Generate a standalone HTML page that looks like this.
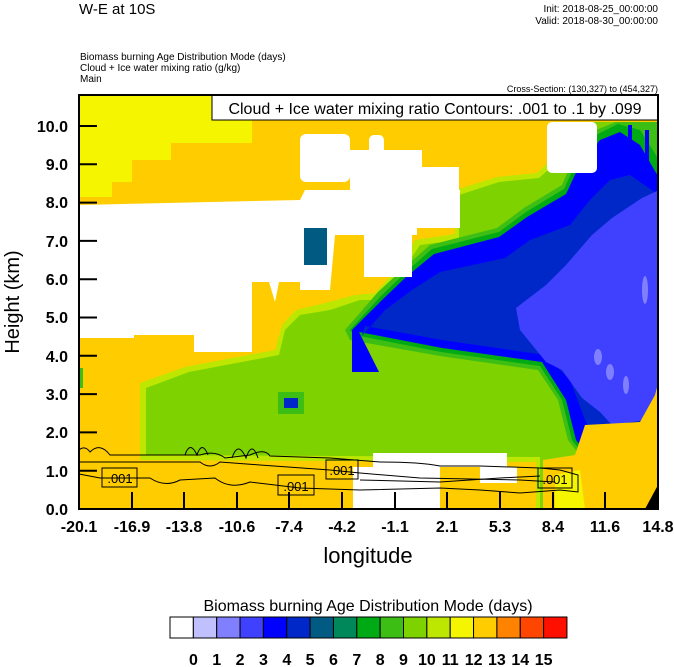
<!DOCTYPE html>
<html><head><meta charset="utf-8"><style>
body{margin:0;background:#fff;width:674px;height:667px;overflow:hidden}
svg{display:block;font-family:"Liberation Sans",sans-serif}
</style></head><body>
<svg width="674" height="667" viewBox="0 0 674 667" xmlns="http://www.w3.org/2000/svg">
<text x="79" y="14" font-size="15">W-E at 10S</text>
<text x="658" y="12" font-size="10" text-anchor="end">Init: 2018-08-25_00:00:00</text>
<text x="658" y="24" font-size="10" text-anchor="end">Valid: 2018-08-30_00:00:00</text>
<text x="80" y="60" font-size="10">Biomass burning Age Distribution Mode    (days)</text>
<text x="80" y="71" font-size="10">Cloud + Ice water mixing ratio    (g/kg)</text>
<text x="80" y="82" font-size="10">Main</text>
<text x="658" y="92" font-size="9" text-anchor="end">Cross-Section: (130,327) to (454,327)</text>
<defs><clipPath id="c"><rect x="79" y="95" width="579" height="414"/></clipPath></defs>
<g clip-path="url(#c)">
<rect x="79" y="95" width="579" height="414" fill="#FFCC00"/>
<polygon fill="#F5F500" points="79,95 252,95 252,143 171,143 171,160 132,160 132,182 112,182 112,197 79,197"/>
<polygon fill="#BDE600" points="140,460 140,383 185,367 275,350 282,325 296,310 325,303 355,295 375,293 396,270 415,240 455,234 455,190 497,177 537,173 558,153 572,125 588,122 659,122 659,509 536,509 536,462"/>
<polygon fill="#7DD200" points="146,455 146,388 189,372 279,355 285,330 300,315 330,310 360,300 380,300 400,275 420,245 459,240 459,195 499,182 539,178 562,158 575,130 590,122 659,122 659,509 540,509 540,457"/>
<polygon fill="#3CBE14" points="345,330 378,292 404,268 430,245 497,228 524,208 562,185 575,155 596,130 616,122 659,122 659,505 635,505 612,470 585,462 568,440 558,400 538,370 440,356 350,340"/>
<polygon fill="#00AA14" points="350,330 380,297 406,272 432,249 499,232 526,212 564,189 578,159 598,134 618,124 640,130 659,160 659,502 638,502 616,468 588,461 572,440 562,400 540,366 441,352 355,335"/>
<polygon fill="#0000FF" points="352,330 382,300 406,277 434,254 499,237 527,217 566,194 580,164 600,140 620,132 640,145 659,178 659,500 640,500 620,470 592,460 576,440 566,400 542,362 442,348 359,332 379,372 352,372"/>
<polygon fill="#0028C8" points="362,336 385,310 412,290 440,272 505,258 530,240 570,225 590,200 610,180 630,175 659,195 659,470 640,470 622,455 600,445 585,420 570,380 545,355 442,340 365,326"/>
<polygon fill="#4040FF" points="516,308 546,285 566,265 592,235 612,218 642,198 659,190 659,395 645,420 612,425 600,412 582,398 562,370 546,362 520,330"/>
<rect x="628" y="125" width="4" height="30" fill="#0000FF"/>
<rect x="645" y="130" width="4" height="40" fill="#0000FF"/>
<ellipse cx="645" cy="290" rx="3" ry="14" fill="#8080FF"/>
<ellipse cx="598" cy="357" rx="4" ry="8" fill="#8080FF"/>
<ellipse cx="610" cy="372" rx="4" ry="8" fill="#8080FF"/>
<ellipse cx="626" cy="385" rx="3" ry="9" fill="#8080FF"/>
<polygon fill="#FFCC00" points="543,460 575,455 585,425 640,422 655,395 659,380 659,509 543,509"/>
<polygon fill="#F5F500" points="555,475 580,470 585,509 555,509"/>
<rect x="278" y="392" width="26" height="22" fill="#3CBE14"/>
<rect x="284" y="398" width="14" height="10" fill="#0028C8"/>
<rect x="79" y="368" width="4" height="20" fill="#3CBE14"/>
<path fill="#fff" d="M79,205 L300,200 L305,190 L460,190 L460,228 L360,228 L360,235 L335,235 L330,290 L300,290 L300,282 L279,282 L275,302 L269,282 L252,282 L252,352 L194,352 L194,335 L134,335 L134,338 L79,338 Z"/>
<rect x="300" y="134" width="50" height="48" rx="6" fill="#fff"/>
<rect x="350" y="150" width="72" height="62" fill="#fff"/>
<rect x="369" y="135" width="15" height="20" rx="5" fill="#fff"/>
<rect x="422" y="167" width="37" height="45" fill="#fff"/>
<rect x="359" y="212" width="58" height="23" fill="#fff"/>
<rect x="364" y="235" width="48" height="42" fill="#fff"/>
<rect x="547" y="122" width="50" height="51" rx="5" fill="#fff"/>
<rect x="304" y="228" width="23" height="37" fill="#005A82"/>
<rect x="373" y="453" width="134" height="14" fill="#fff"/>
<rect x="353" y="467" width="87" height="42" fill="#fff"/>
<rect x="480" y="467" width="37" height="16" fill="#fff"/>
<polygon fill="#000" points="645,509 658,485 658,509"/>
<g fill="none" stroke="#000" stroke-width="1">
<path d="M79,450 Q85,445 90,452 Q100,442 110,455 L200,455 Q215,450 225,458 L250,455 Q265,448 270,456 L330,458 L380,462 Q420,462 440,466 L480,466 L540,468 L560,470 L578,475 L578,492 L560,490 L520,493 L480,490 L440,488 L360,490 L300,488 L250,482 Q230,490 215,478 L180,480 Q165,488 150,478 L100,478 L79,474"/>
<path d="M79,462 L200,462 Q210,470 220,462 L260,465 L330,470 L360,473 L420,478 L520,480 L555,482"/>
<path d="M360,480 L440,482 L500,478 L540,476"/>
<path d="M185,455 Q190,440 197,455 Q202,440 208,455 M232,458 Q238,440 246,458 Q252,440 258,458"/>
</g>
<g font-size="13" text-anchor="middle">
<rect x="102" y="468" width="35" height="19" fill="none" stroke="#000"/><text x="120" y="483">.001</text>
<rect x="278" y="475" width="36" height="20" fill="none" stroke="#000"/><text x="296" y="491">.001</text>
<rect x="326" y="460" width="32" height="19" fill="none" stroke="#000"/><text x="342" y="475">.001</text>
<rect x="538" y="468" width="34" height="20" fill="none" stroke="#000"/><text x="555" y="484">.001</text>
</g>
</g>
<rect x="212" y="95" width="446" height="25" fill="#fff" stroke="#000"/>
<text x="435" y="114" font-size="16" text-anchor="middle">Cloud + Ice water mixing ratio Contours: .001 to .1 by .099</text>
<rect x="79" y="95" width="579" height="414" fill="none" stroke="#000" stroke-width="2"/>
<g stroke="#000" stroke-width="2">
<line x1="79" y1="126" x2="97" y2="126"/><line x1="79" y1="164.3" x2="97" y2="164.3"/><line x1="79" y1="202.6" x2="97" y2="202.6"/><line x1="79" y1="240.9" x2="97" y2="240.9"/><line x1="79" y1="279.2" x2="97" y2="279.2"/><line x1="79" y1="317.5" x2="97" y2="317.5"/><line x1="79" y1="355.8" x2="97" y2="355.8"/><line x1="79" y1="394.1" x2="97" y2="394.1"/><line x1="79" y1="432.4" x2="97" y2="432.4"/><line x1="79" y1="470.7" x2="97" y2="470.7"/>
<line x1="132" y1="509" x2="132" y2="492"/><line x1="184" y1="509" x2="184" y2="492"/><line x1="237" y1="509" x2="237" y2="492"/><line x1="289" y1="509" x2="289" y2="492"/><line x1="342" y1="509" x2="342" y2="492"/><line x1="395" y1="509" x2="395" y2="492"/><line x1="447" y1="509" x2="447" y2="492"/><line x1="500" y1="509" x2="500" y2="492"/><line x1="553" y1="509" x2="553" y2="492"/><line x1="605" y1="509" x2="605" y2="492"/>
</g>
<g font-size="16" text-anchor="end" font-weight="bold">
<text x="68" y="132">10.0</text><text x="68" y="170">9.0</text><text x="68" y="208">8.0</text><text x="68" y="247">7.0</text><text x="68" y="285">6.0</text><text x="68" y="323">5.0</text><text x="68" y="362">4.0</text><text x="68" y="400">3.0</text><text x="68" y="438">2.0</text><text x="68" y="477">1.0</text><text x="68" y="515">0.0</text>
</g>
<g font-size="16" text-anchor="middle" font-weight="bold">
<text x="79" y="532">-20.1</text><text x="132" y="532">-16.9</text><text x="184" y="532">-13.8</text><text x="237" y="532">-10.6</text><text x="289" y="532">-7.4</text><text x="342" y="532">-4.2</text><text x="395" y="532">-1.1</text><text x="447" y="532">2.1</text><text x="500" y="532">5.3</text><text x="553" y="532">8.4</text><text x="605" y="532">11.6</text><text x="658" y="532">14.8</text>
</g>
<text x="368" y="563" font-size="22" text-anchor="middle">longitude</text>
<text transform="translate(19,302) rotate(-90)" font-size="20" text-anchor="middle">Height (km)</text>
<text x="368" y="611" font-size="16" text-anchor="middle">Biomass burning Age Distribution Mode  (days)</text>
<g stroke="#000" stroke-width="1">
<rect x="170" y="617" width="23.35" height="21" fill="#FFFFFF"/>
<rect x="193.35" y="617" width="23.35" height="21" fill="#C0C0FF"/>
<rect x="216.7" y="617" width="23.35" height="21" fill="#8080FF"/>
<rect x="240.05" y="617" width="23.35" height="21" fill="#4040FF"/>
<rect x="263.4" y="617" width="23.35" height="21" fill="#0000FF"/>
<rect x="286.75" y="617" width="23.35" height="21" fill="#0028C8"/>
<rect x="310.1" y="617" width="23.35" height="21" fill="#005A82"/>
<rect x="333.45" y="617" width="23.35" height="21" fill="#00875A"/>
<rect x="356.8" y="617" width="23.35" height="21" fill="#00AA14"/>
<rect x="380.15" y="617" width="23.35" height="21" fill="#3CBE14"/>
<rect x="403.5" y="617" width="23.35" height="21" fill="#7DD200"/>
<rect x="426.85" y="617" width="23.35" height="21" fill="#BDE600"/>
<rect x="450.2" y="617" width="23.35" height="21" fill="#F5F500"/>
<rect x="473.55" y="617" width="23.35" height="21" fill="#FFCC00"/>
<rect x="496.9" y="617" width="23.35" height="21" fill="#FF8200"/>
<rect x="520.25" y="617" width="23.35" height="21" fill="#FF4600"/>
<rect x="543.6" y="617" width="23.35" height="21" fill="#FF0F00"/>
</g>
<g font-size="16" text-anchor="middle" font-weight="bold">
<text x="193.4" y="665">0</text><text x="216.7" y="665">1</text><text x="240.1" y="665">2</text><text x="263.4" y="665">3</text><text x="286.8" y="665">4</text><text x="310.1" y="665">5</text><text x="333.5" y="665">6</text><text x="356.8" y="665">7</text><text x="380.2" y="665">8</text><text x="403.5" y="665">9</text><text x="426.9" y="665">10</text><text x="450.2" y="665">11</text><text x="473.6" y="665">12</text><text x="496.9" y="665">13</text><text x="520.3" y="665">14</text><text x="543.6" y="665">15</text>
</g>
</svg>
</body></html>
